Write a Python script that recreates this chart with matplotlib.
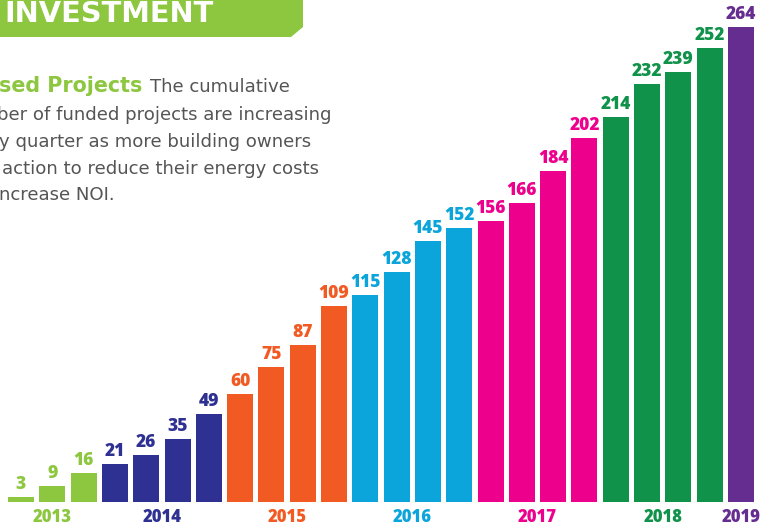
import matplotlib.pyplot as plt
from matplotlib.patches import Polygon

# cumulative funded projects per quarter
values = [3, 9, 16,
          21, 26, 35, 49,
          60, 75, 87, 109,
          115, 128, 145, 152,
          156, 166, 184, 202,
          214, 232, 239, 252,
          264]
years = ['2013', '2014', '2015', '2016', '2017', '2018', '2019']
bars_per_year = [3, 4, 4, 4, 4, 4, 1]
year_colors = ['#8dc63f', '#2e3192', '#f15a22', '#0ba5dc', '#ec008c', '#10924a', '#662d91']

W, H = 761, 527
fig = plt.figure(figsize=(W / 100, H / 100), dpi=100)
ax = fig.add_axes([0, 0, 1, 1])

pitch = 31.3
x0 = 21
ppu = 1.8  # pixels per unit
base = 25  # px from bottom
ax.set_xlim(-x0 / pitch, (W - x0) / pitch)
ax.set_ylim(-base / ppu, (H - base) / ppu)
ax.axis('off')

FONT = 'DejaVu Sans'
NUMFONT = 'Open Sans'

colors = []
for c, n in zip(year_colors, bars_per_year):
    colors += [c] * n

xs = list(range(len(values)))
ax.bar(xs, values, width=26 / pitch, color=colors)
for x, v, c in zip(xs, values, colors):
    ax.text(x, v + 4 / ppu, str(v), ha='center', va='bottom', color=c,
            fontsize=12.5, fontweight='heavy', family=NUMFONT)

start = 0
for yr, n, c in zip(years, bars_per_year, year_colors):
    cx = start + (n - 1) / 2
    ax.text(cx, -base / ppu + 9 / ppu, yr, ha='center', va='center', color=c,
            fontsize=12, fontweight='heavy', family=NUMFONT)
    start += n

# banner
pts = [(0, H), (303, H), (303, H - 27), (291, H - 37), (0, H - 37)]
fig.add_artist(Polygon([(px / W, py / H) for px, py in pts], closed=True,
                       transform=fig.transFigure, facecolor='#8dc63f', edgecolor='none'))

renderer = fig.canvas.get_renderer()


def fit(txt, width):
    # scale font so the text covers the same width as in the picture
    w = txt.get_window_extent(renderer).width
    txt.set_fontsize(txt.get_fontsize() * width / w)


t = fig.text(4 / W, (H - 22) / H, 'INVESTMENT', color='white', fontsize=20,
             fontweight='bold', family=FONT, va='baseline', ha='left')
fit(t, 209)

# paragraph
t = fig.text(-1 / W, (H - 92) / H, 'sed Projects', color='#8dc63f', fontsize=15,
             fontweight='bold', family=FONT, va='baseline', ha='left')
fit(t, 144)
lines = ['ber of funded projects are increasing',
         'y quarter as more building owners',
         'action to reduce their energy costs',
         'ncrease NOI.']
lx = [-3, -1, 2, -1]
body = [fig.text(150 / W, (H - 92) / H, 'The cumulative', color='#555555', fontsize=12,
                 family=FONT, va='baseline', ha='left')]
for i, (ln, x) in enumerate(zip(lines, lx)):
    body.append(fig.text(x / W, (H - 94 - 26.5 * (i + 1)) / H, ln, color='#555555',
                         fontsize=12, family=FONT, va='baseline', ha='left'))
w = body[1].get_window_extent(renderer).width
scale = 333 / w
for t in body:
    t.set_fontsize(t.get_fontsize() * scale)

fig.savefig('out.png', dpi=100)
